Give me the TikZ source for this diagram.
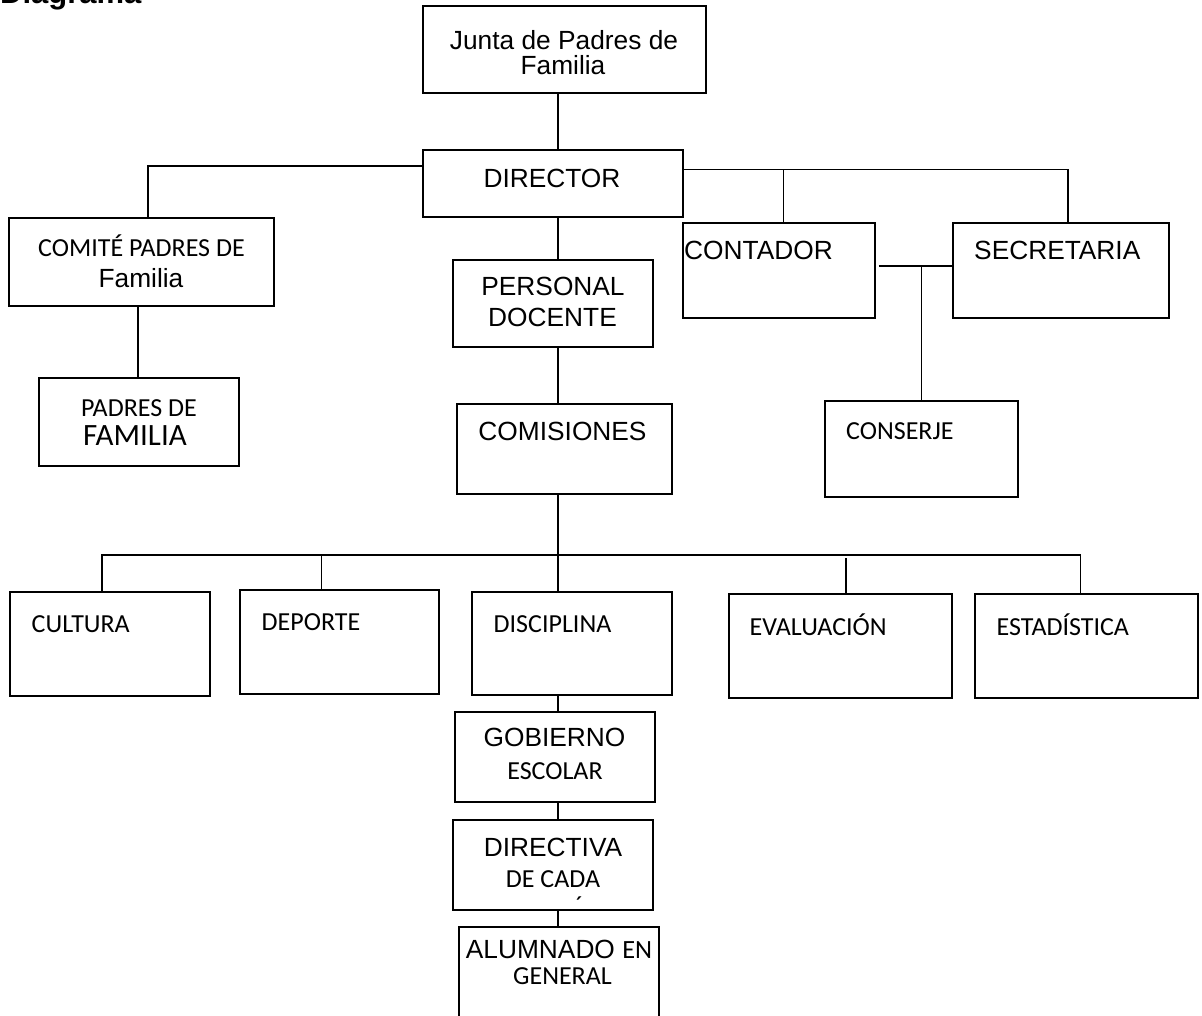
\documentclass[tikz,border=0pt]{standalone}
\usepackage{fontspec}
\newfontfamily\arial{Liberation Sans}
\newfontfamily\calibri{Carlito}
\begin{document}
\begin{tikzpicture}[x=1pt, y=-1pt,
    caja/.style={draw, line width=1.9pt, inner sep=0pt},
    ar/.style={font=\arial\fontsize{26.3}{30}\selectfont, inner sep=0pt},
    cal/.style={font=\calibri\fontsize{26}{30}\selectfont, inner sep=0pt},
    linea/.style={line width=1.8pt}]

    \useasboundingbox (0,0) rectangle (1202,1015);

    % heading, cut at the top of the page
    \node[font=\arial\bfseries\fontsize{31}{31}\selectfont, inner sep=0pt, anchor=base west] (titulo) at (0,3) {Diagrama};

    % boxes
    \node[caja, minimum width=283pt, minimum height=87pt] (junta) at (564.5,49.5) {};
    \node[caja, minimum width=260pt, minimum height=67pt] (director) at (553,183.5) {};
    \node[caja, minimum width=265pt, minimum height=88pt] (comite) at (141.5,262) {};
    \node[caja, minimum width=200pt, minimum height=88pt] (padres) at (139,422) {};
    \node[caja, minimum width=200pt, minimum height=87pt] (personal) at (553,303.5) {};
    \node[caja, minimum width=215pt, minimum height=90pt] (comisiones) at (564.5,449) {};
    \node[caja, minimum width=192pt, minimum height=95pt] (contador) at (779,270.5) {};
    \node[caja, minimum width=216pt, minimum height=95pt] (secretaria) at (1061,270.5) {};
    \node[caja, minimum width=193pt, minimum height=96pt] (conserje) at (921.5,449) {};
    \node[caja, minimum width=200pt, minimum height=104pt] (cultura) at (110,644) {};
    \node[caja, minimum width=199pt, minimum height=104pt] (deporte) at (339.5,642) {};
    \node[caja, minimum width=200pt, minimum height=103pt] (disciplina) at (572,643.5) {};
    \node[caja, minimum width=223pt, minimum height=104pt] (evaluacion) at (840.5,646) {};
    \node[caja, minimum width=223pt, minimum height=104pt] (estadistica) at (1086.5,646) {};
    \node[caja, minimum width=200pt, minimum height=90pt] (gobierno) at (555,757) {};
    \node[caja, minimum width=200pt, minimum height=90pt] (directiva) at (553,865) {};
    \node[caja, minimum width=200pt, minimum height=100pt] (alumnado) at (559,977) {};

    % texts
    \node[ar, anchor=base] (t-junta1) at (564,49) {Junta de Padres de};
    \node[ar, anchor=base] (t-junta2) at (563,74) {Familia};
    \node[ar, anchor=base] (t-director) at (552,187) {DIRECTOR};
    \node[cal, anchor=base] (t-comite1) at (141.5,256.5) {COMITÉ PADRES DE};
    \node[ar, anchor=base] (t-comite2) at (141,287) {Familia};
    \node[cal, anchor=base] (t-padres1) at (139,416) {PADRES DE};
    \node[cal, font=\calibri\fontsize{31}{31}\selectfont, anchor=base] (t-padres2) at (135,445) {FAMILIA};
    \node[ar, anchor=base] (t-personal1) at (553,295.5) {PERSONAL};
    \node[ar, anchor=base] (t-personal2) at (552.5,326) {DOCENTE};
    \node[ar, anchor=base] (t-comisiones) at (562.5,440) {COMISIONES};
    \node[ar, anchor=base west] (t-contador) at (684,259.5) {CONTADOR};
    \node[ar, anchor=base west] (t-secretaria) at (974,259.5) {SECRETARIA};
    \node[cal, anchor=base west] (t-conserje) at (846,439.5) {CONSERJE};
    \node[cal, anchor=base west] (t-cultura) at (31.5,632) {CULTURA};
    \node[cal, anchor=base west] (t-deporte) at (261.5,630) {DEPORTE};
    \node[cal, anchor=base west] (t-disciplina) at (493.5,632) {DISCIPLINA};
    \node[cal, anchor=base west] (t-evaluacion) at (749.5,635) {EVALUACIÓN};
    \node[cal, anchor=base west] (t-estadistica) at (996.5,635) {ESTADÍSTICA};
    \node[ar, anchor=base] (t-gobierno1) at (554.5,746.5) {GOBIERNO};
    \node[cal, anchor=base] (t-gobierno2) at (555,779) {ESCOLAR};
    \node[ar, anchor=base] (t-directiva1) at (553,856) {DIRECTIVA};
    \node[cal, anchor=base] (t-directiva2) at (553,887.5) {DE CADA};
    \node[cal, anchor=north] (t-acento) at (579.5,897) {´};
    \node[ar, anchor=base] (t-alumnado1) at (559,958) {ALUMNADO {\calibri EN}};
    \node[cal, anchor=base] (t-alumnado2) at (562.5,984) {GENERAL};

    % connectors, top part
    \coordinate (barra-i) at ([yshift=17.5pt]director.west);
    \coordinate (barra-d) at ([yshift=14pt]director.east);
    \coordinate (barra-c) at ([yshift=4.5pt]contador.east);
    \draw[linea] ([xshift=-6.5pt]junta.south) -- ([xshift=-6.5pt]junta.south |- director.north);
    \draw[linea] (barra-i) -| ([xshift=6.5pt]comite.north);
    \draw[linea] (barra-d) -| ([xshift=7pt]secretaria.north);
    \draw[linea] ([xshift=4.5pt]contador.north) -- ([xshift=4.5pt]contador.north |- barra-d);
    \draw[linea] ([xshift=3pt]barra-c) -- (barra-c -| secretaria.west);
    \draw[linea] (conserje.north |- barra-c) -- (conserje.north);
    \draw[linea] ([xshift=-3.5pt]comite.south) -- ([xshift=-3.5pt]comite.south |- padres.north);
    \draw[linea] ([xshift=5pt]director.south) -- ([xshift=5pt]director.south |- personal.north);
    \draw[linea] ([xshift=5pt]personal.south) -- ([xshift=5pt]personal.south |- comisiones.north);

    % connectors, commissions
    \coordinate (barra-b) at ([yshift=-60pt]comisiones.south);
    \draw[linea] ([xshift=-6.5pt]comisiones.south) -- ([xshift=-6.5pt]comisiones.south |- disciplina.north);
    \draw[linea] ([xshift=-8pt]cultura.north) |- ([xshift=-6pt]estadistica.north |- barra-b) -- ([xshift=-6pt]estadistica.north);
    \draw[linea] ([xshift=-18pt]deporte.north) -- ([xshift=-18pt]deporte.north |- barra-b);
    \draw[linea] ([xshift=5.5pt,yshift=-3.5pt]evaluacion.north |- barra-b) -- ([xshift=5.5pt]evaluacion.north);

    % connectors, bottom part
    \draw[linea] ([xshift=-14pt]disciplina.south) -- ([xshift=-14pt]disciplina.south |- gobierno.north);
    \draw[linea] ([xshift=3pt]gobierno.south) -- ([xshift=3pt]gobierno.south |- directiva.north);
    \draw[linea] ([xshift=5pt]directiva.south) -- ([xshift=5pt]directiva.south |- alumnado.north);

\end{tikzpicture}
\end{document}
